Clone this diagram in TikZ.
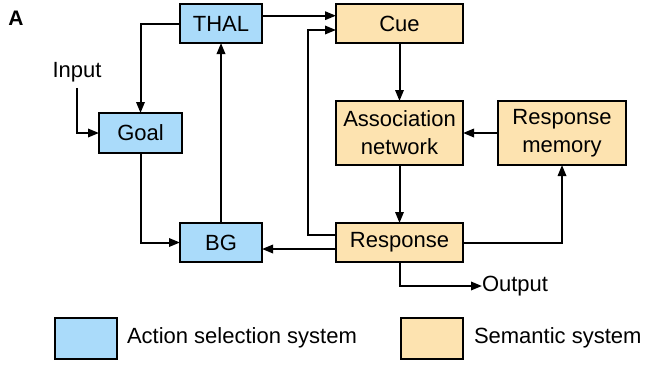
\documentclass[tikz,border=0pt]{standalone}
\usepackage{fontspec}
\setmainfont{Liberation Sans}
\usetikzlibrary{arrows.meta,calc}
\definecolor{actblue}{RGB}{170,219,250}
\definecolor{semtan}{RGB}{253,227,176}
\tikzset{
  box/.style={draw=black, line width=1.25pt, rectangle, inner sep=0pt, outer sep=0pt, align=center},
  actbox/.style={box, fill=actblue},
  sembox/.style={box, fill=semtan},
  conn/.style={line width=1pt, -{Triangle[length=5.5pt,width=4.2pt]}},
  lbl/.style={inner sep=0pt, outer sep=0pt}
}
\begin{document}
\begin{tikzpicture}[x=0.5pt,y=-0.5pt, font=\fontsize{11}{14}\selectfont]
\useasboundingbox (0,0) rectangle (647,364);
\node[lbl, font=\fontsize{10.5}{12}\selectfont\bfseries] (lblA) at (16,18.5) {A};
% action selection system
\node[actbox, minimum width=41pt, minimum height=19.5pt] (THAL) at (221,23.5) {THAL};
\node[actbox, minimum width=41.5pt, minimum height=20pt] (Goal) at (140.5,133) {Goal};
\node[actbox, minimum width=41pt, minimum height=19.5pt] (BG) at (221,242.5) {BG};
% semantic system
\node[sembox, minimum width=63.5pt, minimum height=19.5pt] (Cue) at (399.5,23.5) {Cue};
\node[sembox, minimum width=63.5pt, minimum height=32pt] (Assoc) at (399.5,133) {Association\\network};
\node[sembox, minimum width=64pt, minimum height=32pt] (RespMem) at (562,133) {Response\\memory};
\node[sembox, minimum width=63.5pt, minimum height=19.5pt] (Resp) at (399.5,242.5) {Response};
% free labels
\node[lbl] (Input) at (77,72) {Input};
\node[lbl, anchor=west] (Output) at (482,286) {Output};
% connectors
\draw[conn] (THAL.west) -| (Goal.north);
\draw[conn] ([yshift=-3pt]Input.south) |- (Goal.west);
\draw[conn] (Goal.south) |- (BG.west);
\draw[conn] (BG.north) -- (THAL.south);
\draw[conn] ([yshift=3.9pt]THAL.east) -- ([yshift=3.9pt]Cue.west);
\draw[conn] ([yshift=3.75pt]Resp.west) -- ++(-28,0) |- ([yshift=-3.25pt]Cue.west);
\draw[conn] ([yshift=-3.25pt]Resp.west) -- ([yshift=-3.25pt]BG.east);
\draw[conn] (Cue.south) -- (Assoc.north);
\draw[conn] (Assoc.south) -- (Resp.north);
\draw[conn] (RespMem.west) -- (Assoc.east);
\draw[conn] (Resp.east) -| (RespMem.south);
\draw[conn] (Resp.south) |- (Output.west);
% legend
\node[actbox, minimum width=31pt, minimum height=20.5pt] (legA) at (86,338.5) {};
\node[lbl, anchor=west] (legAtxt) at (127,338) {Action selection system};
\node[sembox, minimum width=31pt, minimum height=20.5pt] (legS) at (432,338.5) {};
\node[lbl, anchor=west] (legStxt) at (474,338) {Semantic system};
\end{tikzpicture}
\end{document}
